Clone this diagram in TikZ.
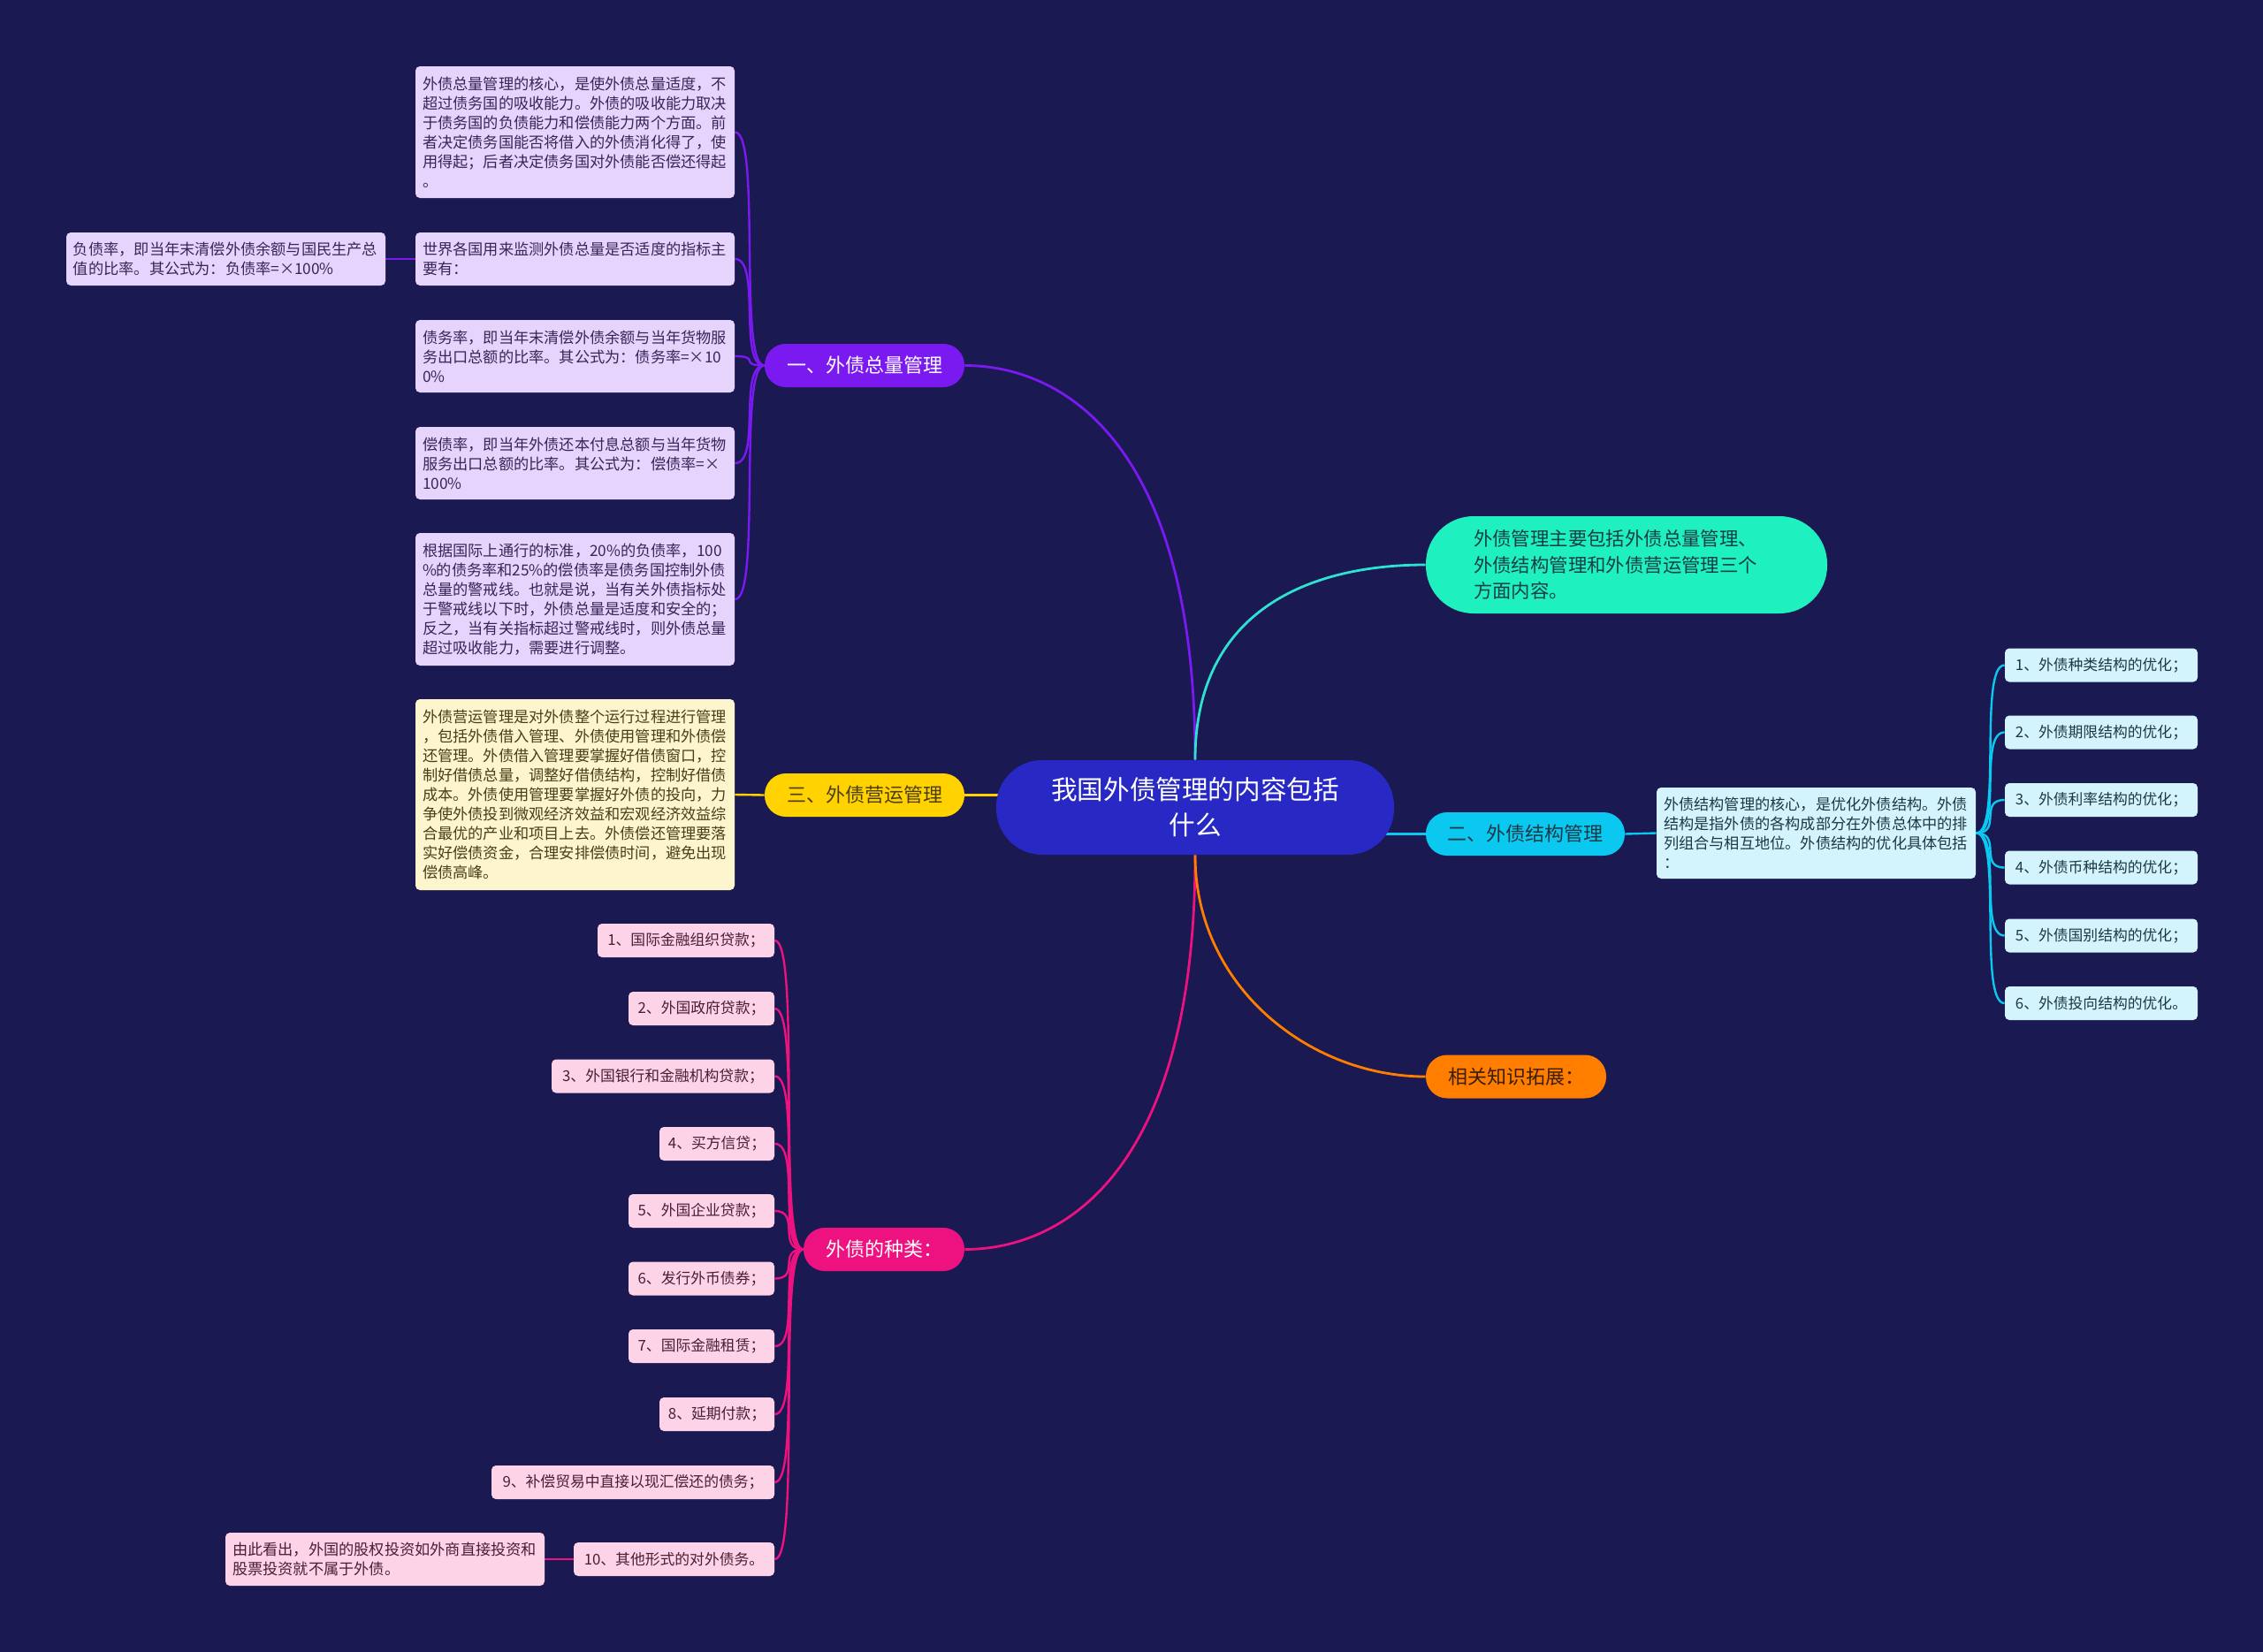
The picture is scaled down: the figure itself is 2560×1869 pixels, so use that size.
\documentclass[tikz,border=0pt]{standalone}
\usepackage{fontspec}
\setmainfont{Noto Sans CJK SC}
\pgfdeclarelayer{bg}
\pgfdeclarelayer{edges}
\pgfsetlayers{bg,edges,main}
\definecolor{bgc}{HTML}{1A1952}
\definecolor{rootc}{HTML}{2828C4}
\definecolor{purc}{HTML}{7B1AF0}
\definecolor{purl}{HTML}{E6D4FC}
\definecolor{purt}{HTML}{3A2458}
\definecolor{yelc}{HTML}{FFD200}
\definecolor{yell}{HTML}{FDF5CE}
\definecolor{yelt}{HTML}{4A3E18}
\definecolor{magc}{HTML}{EE1280}
\definecolor{magl}{HTML}{FDD3E8}
\definecolor{magt}{HTML}{4A1E34}
\definecolor{cyac}{HTML}{0BC8F0}
\definecolor{cyal}{HTML}{D3F4FD}
\definecolor{cyat}{HTML}{1C3844}
\definecolor{teac}{HTML}{1EF0C0}
\definecolor{teat}{HTML}{173E48}
\definecolor{tealine}{HTML}{2EE2D2}
\definecolor{orac}{HTML}{FF7E00}
\definecolor{orat}{HTML}{3A1E08}
\tikzset{
  pill/.style={rounded corners=12pt, inner sep=0pt, minimum height=24.5pt, align=center,
    font=\fontsize{11pt}{13pt}\selectfont},
  para/.style={rounded corners=2.5pt, text width=172.5pt, align=left, inner xsep=4pt,
    inner ysep=0pt, font=\fontsize{8.6pt}{11pt}\selectfont},
  itembox/.style={rounded corners=2.5pt, minimum height=19pt, inner sep=0pt, align=center,
    font=\fontsize{8.4pt}{10pt}\selectfont},
  mainconn/.style={line width=1.4pt},
  subconn/.style={line width=1.2pt},
}
\begin{document}
\begin{tikzpicture}[x=0.5pt,y=-0.5pt]
\begin{pgfonlayer}{bg}
\fill[bgc] (0,0) rectangle (2560,1869);
\end{pgfonlayer}
\path[use as bounding box] (0,0) rectangle (2560,1869);

% root
\node[fill=rootc, text=white, rounded corners=26pt, minimum width=225pt, minimum height=53.5pt,
  inner sep=0pt, align=center, font=\fontsize{14.8pt}{20pt}\selectfont] (root) at (1352,913.5)
  {我国外债管理的内容包括\\什么};

% branch pills
\node[pill, fill=purc, text=white, minimum width=113pt] (b1) at (978,413.5) {一、外债总量管理};
\node[pill, fill=yelc, text=yelt, minimum width=113pt] (b3) at (978,899.5) {三、外债营运管理};
\node[pill, fill=magc, text=white, minimum width=91pt] (b4) at (1000,1413.5) {外债的种类：};
\node[pill, fill=cyac, text=cyat, minimum width=112.5pt] (b2) at (1725.5,943.5) {二、外债结构管理};
\node[pill, fill=orac, text=orat, minimum width=102pt] (b5) at (1715,1218) {相关知识拓展：};
\node[fill=teac, text=teat, rounded corners=27pt, minimum width=227pt, minimum height=55pt,
  text width=173pt, align=left, inner sep=0pt, font=\fontsize{10.7pt}{14.7pt}\selectfont]
  (sum) at (1840,639) {外债管理主要包括外债总量管理、\\外债结构管理和外债营运管理三个\\方面内容。};

% purple children
\node[para, fill=purl, text=purt, minimum height=74.5pt] (pA) at (650.5,149.5)
{外债总量管理的核心，是使外债总量适度，不\\超过债务国的吸收能力。外债的吸收能力取决\\于债务国的负债能力和偿债能力两个方面。前\\者决定债务国能否将借入的外债消化得了，使\\用得起；后者决定债务国对外债能否偿还得起\\。};
\node[para, fill=purl, text=purt, minimum height=30pt] (pB) at (650.5,293)
{世界各国用来监测外债总量是否适度的指标主\\要有：};
\node[para, fill=purl, text=purt, minimum height=30pt] (pF) at (255.5,293)
{负债率，即当年末清偿外债余额与国民生产总\\值的比率。其公式为：负债率=×100\%};
\node[para, fill=purl, text=purt, minimum height=41pt] (pC) at (650.5,403)
{债务率，即当年末清偿外债余额与当年货物服\\务出口总额的比率。其公式为：债务率=×10\\0\%};
\node[para, fill=purl, text=purt, minimum height=41pt] (pD) at (650.5,524)
{偿债率，即当年外债还本付息总额与当年货物\\服务出口总额的比率。其公式为：偿债率=×\\100\%};
\node[para, fill=purl, text=purt, minimum height=75pt] (pE) at (650.5,678)
{根据国际上通行的标准，20\%的负债率，100\\\%的债务率和25\%的偿债率是债务国控制外债\\总量的警戒线。也就是说，当有关外债指标处\\于警戒线以下时，外债总量是适度和安全的；\\反之，当有关指标超过警戒线时，则外债总量\\超过吸收能力，需要进行调整。};

% yellow child
\node[para, fill=yell, text=yelt, minimum height=108pt] (y1) at (650.5,899)
{外债营运管理是对外债整个运行过程进行管理\\，包括外债借入管理、外债使用管理和外债偿\\还管理。外债借入管理要掌握好借债窗口，控\\制好借债总量，调整好借债结构，控制好借债\\成本。外债使用管理要掌握好外债的投向，力\\争使外债投到微观经济效益和宏观经济效益综\\合最优的产业和项目上去。外债偿还管理要落\\实好偿债资金，合理安排偿债时间，避免出现\\偿债高峰。};

% cyan children
\node[para, fill=cyal, text=cyat, minimum height=51.5pt] (c0) at (2054.5,942.5)
{外债结构管理的核心，是优化外债结构。外债\\结构是指外债的各构成部分在外债总体中的排\\列组合与相互地位。外债结构的优化具体包括\\：};
\node[itembox, fill=cyal, text=cyat, minimum width=109pt] (c1) at (2377,752.5) {1、外债种类结构的优化；};
\node[itembox, fill=cyal, text=cyat, minimum width=109pt] (c2) at (2377,828.5) {2、外债期限结构的优化；};
\node[itembox, fill=cyal, text=cyat, minimum width=109pt] (c3) at (2377,905) {3、外债利率结构的优化；};
\node[itembox, fill=cyal, text=cyat, minimum width=109pt] (c4) at (2377,981.5) {4、外债币种结构的优化；};
\node[itembox, fill=cyal, text=cyat, minimum width=109pt] (c5) at (2377,1058.5) {5、外债国别结构的优化；};
\node[itembox, fill=cyal, text=cyat, minimum width=109pt] (c6) at (2377,1135) {6、外债投向结构的优化。};

% magenta children
\node[itembox, fill=magl, text=magt, minimum width=100pt] (m1) at (776,1064) {1、国际金融组织贷款；};
\node[itembox, fill=magl, text=magt, minimum width=82.5pt] (m2) at (793.5,1141) {2、外国政府贷款；};
\node[itembox, fill=magl, text=magt, minimum width=126pt] (m3) at (750,1217.5) {3、外国银行和金融机构贷款；};
\node[itembox, fill=magl, text=magt, minimum width=65pt] (m4) at (811,1294) {4、买方信贷；};
\node[itembox, fill=magl, text=magt, minimum width=82.5pt] (m5) at (793.5,1370) {5、外国企业贷款；};
\node[itembox, fill=magl, text=magt, minimum width=82.5pt] (m6) at (793.5,1446.5) {6、发行外币债券；};
\node[itembox, fill=magl, text=magt, minimum width=82.5pt] (m7) at (793.5,1523) {7、国际金融租赁；};
\node[itembox, fill=magl, text=magt, minimum width=65pt] (m8) at (811,1600) {8、延期付款；};
\node[itembox, fill=magl, text=magt, minimum width=160pt] (m9) at (716,1677) {9、补偿贸易中直接以现汇偿还的债务；};
\node[itembox, fill=magl, text=magt, minimum width=113.5pt] (m10) at (762.5,1764) {10、其他形式的对外债务。};
\node[para, fill=magl, text=magt, minimum height=30pt] (mN) at (435.5,1764)
{由此看出，外国的股权投资如外商直接投资和\\股票投资就不属于外债。};

\begin{pgfonlayer}{edges}
% main connectors
\draw[mainconn, purc] (root.north) .. controls +(0,-360) and +(110,0) .. (b1.east);
\draw[mainconn, tealine] (root.north) .. controls +(0,-170) and +(-130,0) .. (sum.west);
\draw[mainconn, magc] (root.south) .. controls +(0,360) and +(110,0) .. (b4.east);
\draw[mainconn, orac] (root.south) .. controls +(0,150) and +(-130,0) .. (b5.west);
\draw[mainconn, yelc] (b3.east) -- (root.center |- b3.east);
\draw[mainconn, cyac] (root.center |- b2.west) -- (b2.west);
% purple sub
\foreach \n in {pA,pB,pC,pD,pE}
  \draw[subconn, purc] (b1.west) .. controls +(-30,0) and +(30,0) .. (\n.east);
\draw[subconn, purc] (pB.west) -- (pF.east);
% yellow sub
\draw[subconn, yelc] (b3.west) -- (y1.east);
% cyan sub
\draw[subconn, cyac] (b2.east) -- (c0.west);
\foreach \n in {c1,c2,c3,c4,c5,c6}
  \draw[subconn, cyac] (c0.east) .. controls +(30,0) and +(-30,0) .. (\n.west);
% magenta sub
\foreach \n in {m1,m2,m3,m4,m5,m6,m7,m8,m9,m10}
  \draw[subconn, magc] (b4.west) .. controls +(-30,0) and +(30,0) .. (\n.east);
\draw[subconn, magc] (m10.west) -- (mN.east);
\end{pgfonlayer}
\end{tikzpicture}
\end{document}
